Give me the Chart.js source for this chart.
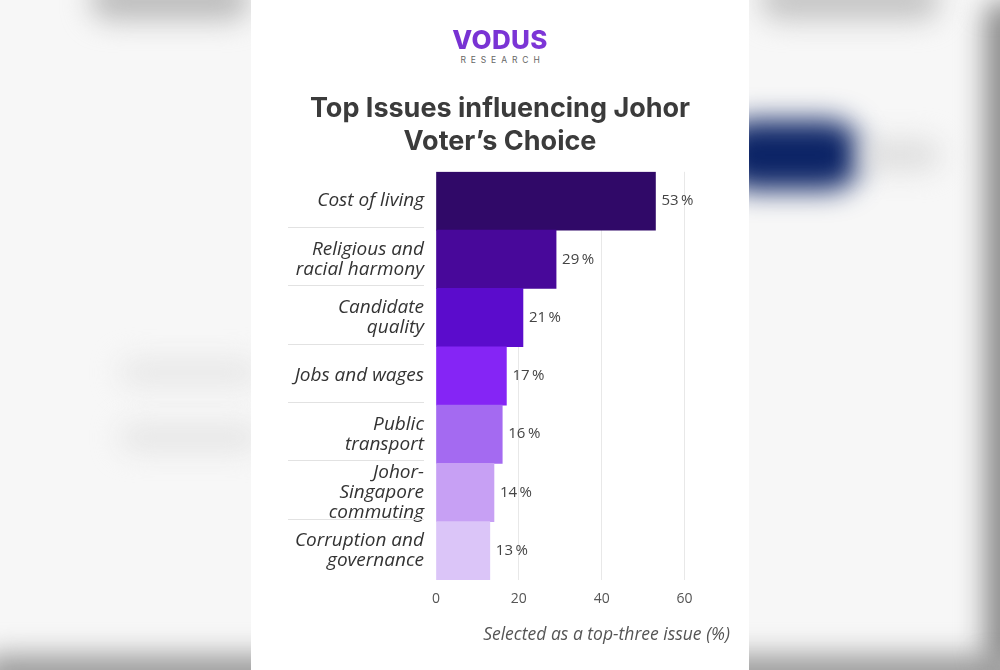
<!DOCTYPE html>
<html>
<head>
<meta charset="utf-8">
<script src="https://cdn.jsdelivr.net/npm/chart.js@4"></script>
<style>
  html, body { margin: 0; padding: 0; }
  body { width: 1000px; height: 670px; overflow: hidden; position: relative; background: #f7f7f7; font-family: "Open Sans", sans-serif; }
  .blob { position: absolute; filter: blur(14px); border-radius: 30px; }
  #card { position: absolute; left: 251px; top: 0; width: 498px; height: 670px; background: #fff; }
  #logo { position: absolute; left: 0; width: 498px; top: 25px; text-align: center; }
  #logo .name { font-family: "Inter", sans-serif; font-weight: 800; font-size: 26px; letter-spacing: 0.3px;
    background: linear-gradient(90deg, #6a28c9, #8a3fe0); -webkit-background-clip: text; color: transparent; line-height: 30px; }
  #logo .sub { font-family: "Inter", sans-serif; font-size: 8.5px; letter-spacing: 4.9px; color: #666; margin-top: 0; padding-left: 5px; }
  #chartBox { position: absolute; left: 0; top: 88px; width: 498px; height: 562px; }
</style>
</head>
<body>
<div class="blob" style="left:90px;top:-20px;width:160px;height:40px;background:#bbb;"></div>
<div class="blob" style="left:760px;top:-20px;width:180px;height:40px;background:#c4c4c4;"></div>
<div class="blob" style="left:720px;top:120px;width:140px;height:70px;background:#0c2466;"></div>
<div class="blob" style="left:860px;top:140px;width:80px;height:30px;background:#ddd;"></div>
<div class="blob" style="left:120px;top:360px;width:140px;height:25px;background:#e6e6e6;"></div>
<div class="blob" style="left:120px;top:425px;width:140px;height:25px;background:#e4e4e4;"></div>
<div class="blob" style="left:-20px;top:655px;width:1040px;height:40px;background:#999;"></div>
<div class="blob" style="left:985px;top:0;width:40px;height:670px;background:#888;"></div>

<div id="card">
  <div id="logo">
    <div class="name">VODUS</div>
    <div class="sub">RESEARCH</div>
  </div>
  <div id="chartBox"><canvas id="issues"></canvas></div>
</div>

<script>
// 項目（上から順）
const categories = [
  'Cost of living',
  ['Religious and', 'racial harmony'],
  ['Candidate', 'quality'],
  'Jobs and wages',
  ['Public', 'transport'],
  ['Johor-', 'Singapore', 'commuting'],
  ['Corruption and', 'governance'],
];

// 選択率 (%)
const shares = [53, 29, 21, 17, 16, 14, 13];

// x 軸の目盛り
const xTicks = [0, 20, 40, 60];

// バーの色（濃い紫 → 薄い紫）
const barColors = ['#300968', '#48089a', '#5b0ccc', '#8525f5', '#a46af1', '#c7a0f4', '#dbc5f8'];

// ─── 左側のラベル区切り線 ───
const separators = {
  id: 'separators',
  beforeDatasetsDraw(chart) {
    const { ctx } = chart;
    const y = chart.scales.y;
    ctx.save();
    ctx.strokeStyle = '#e2e2e2';
    ctx.lineWidth = 1;
    for (let i = 0; i < categories.length - 1; i++) {
      const py = Math.round((y.getPixelForValue(i) + y.getPixelForValue(i + 1)) / 2) - 2.5;
      ctx.beginPath();
      ctx.moveTo(37, py);
      ctx.lineTo(173, py);
      ctx.stroke();
    }
    ctx.restore();
  },
};

// ─── バーの右に値を表示 ───
const valueLabels = {
  id: 'valueLabels',
  afterDatasetsDraw(chart) {
    const { ctx } = chart;
    const meta = chart.getDatasetMeta(0);
    ctx.save();
    ctx.font = '15px "Open Sans", sans-serif';
    ctx.fillStyle = '#444';
    ctx.textBaseline = 'middle';
    meta.data.forEach((bar, i) => {
      ctx.fillText(shares[i] + '\u2009%', bar.x + 6, bar.y);
    });
    ctx.restore();
  },
};

new Chart(document.getElementById('issues'), {
  type: 'bar',
  data: {
    labels: categories,
    datasets: [{
      data: shares,
      backgroundColor: barColors,
      barPercentage: 1,
      categoryPercentage: 1,
      borderWidth: 0,
    }],
  },
  options: {
    indexAxis: 'y',
    responsive: true,
    maintainAspectRatio: false,
    animation: false,
    layout: { padding: { top: 0, right: 19, left: 19, bottom: 0 } },
    plugins: {
      legend: { display: false },
      tooltip: { enabled: false },
      title: {
        display: true,
        text: ['Top Issues influencing Johor', 'Voter\u2019s Choice'],
        color: '#3b3b3b',
        font: { family: 'Inter', size: 27, weight: '700', lineHeight: 1.2 },
        padding: { top: 5, bottom: 14 },
      },
    },
    scales: {
      x: {
        min: 0,
        max: 71,
        afterBuildTicks: (scale) => { scale.ticks = xTicks.map(v => ({ value: v })); },
        afterFit: (scale) => { scale.height = 70; },
        grid: {
          color: (c) => (c.tick && c.tick.value === 0 ? 'rgba(0,0,0,0)' : '#e8e8e8'),
          drawTicks: false,
        },
        border: { display: false },
        ticks: { color: '#555', font: { family: 'Open Sans', size: 14 }, padding: 11 },
        title: {
          display: true,
          text: 'Selected as a top-three issue (%)',
          align: 'end',
          color: '#555',
          font: { family: 'Open Sans', size: 17.5, style: 'italic' },
          padding: { top: 2 },
        },
      },
      y: {
        afterFit: (scale) => { scale.width = 166; },
        grid: { display: false },
        border: { display: false },
        ticks: {
          autoSkip: false,
          color: '#333',
          font: { family: 'Open Sans', size: 19, style: 'italic', lineHeight: 1.06 },
          padding: 4,
        },
      },
    },
  },
  plugins: [separators, valueLabels],
});
</script>
</body>
</html>
